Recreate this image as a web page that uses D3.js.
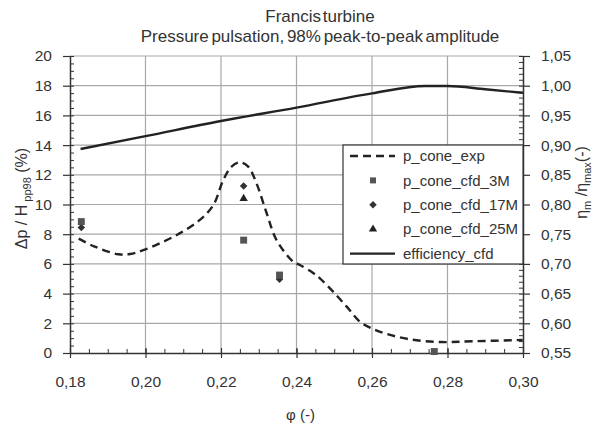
<!DOCTYPE html>
<html>
<head>
<meta charset="utf-8">
<script src="https://cdn.jsdelivr.net/npm/d3@7"></script>
<style>
  body { margin: 0; background: #fff; }
  text { font-family: "Liberation Sans", Arial, sans-serif; fill: #333; }
</style>
</head>
<body>
<div id="chart-area"></div>
<script>
// Data
const expPhi = [0.1823, 0.1862, 0.1928, 0.1959, 0.2000, 0.2083, 0.2144, 0.2180, 0.2206, 0.2228, 0.2250, 0.2272, 0.2294, 0.2321, 0.2347, 0.2391, 0.2409, 0.2445, 0.2462, 0.2497, 0.2533, 0.2568, 0.2599, 0.2639, 0.2701, 0.2780, 0.2868, 0.2999];
const expVal = [7.70, 7.20, 6.65, 6.67, 6.98, 7.95, 8.96, 9.97, 11.65, 12.55, 12.84, 12.55, 11.43, 9.41, 7.61, 6.15, 5.93, 5.37, 5.03, 4.13, 3.12, 2.11, 1.66, 1.28, 0.92, 0.74, 0.79, 0.88];

const cfd3MPhi = [0.183, 0.226, 0.2355, 0.2765];
const cfd3MVal = [8.85, 7.60, 5.25, 0.10];
const cfd17MPhi = [0.183, 0.226, 0.2355];
const cfd17MVal = [8.45, 11.25, 4.96];
const cfd25MPhi = [0.226];
const cfd25MVal = [10.40];

const effPhi = [0.1828, 0.20, 0.22, 0.24, 0.26, 0.274, 0.28, 0.29, 0.30];
const effVal = [0.8934, 0.915, 0.9406, 0.963, 0.987, 0.9995, 0.9995, 0.994, 0.988];

const xTicks = [0.18, 0.20, 0.22, 0.24, 0.26, 0.28, 0.30];
const yTicks = [0, 2, 4, 6, 8, 10, 12, 14, 16, 18, 20];
const y2Ticks = [0.55, 0.60, 0.65, 0.70, 0.75, 0.80, 0.85, 0.90, 0.95, 1.00, 1.05];

const legendNames = ["p_cone_exp", "p_cone_cfd_3M", "p_cone_cfd_17M", "p_cone_cfd_25M", "efficiency_cfd"];

const margin = { top: 56, right: 77, bottom: 77, left: 70 };
const width = 600 - margin.left - margin.right;
const height = 430 - margin.top - margin.bottom;

const root = d3.select("#chart-area").append("svg")
  .attr("width", 600)
  .attr("height", 430);

const svg = root.append("g")
  .attr("transform", `translate(${margin.left},${margin.top})`);

// Scales
const x = d3.scaleLinear().domain([0.18, 0.30]).range([0, width]);
const y = d3.scaleLinear().domain([0, 20]).range([height, 0]);
const y2 = d3.scaleLinear().domain([0.55, 1.05]).range([height, 0]);

const comma = d => d.toFixed(2).replace(".", ",");

// Grid
svg.append("g").selectAll("line")
  .data(yTicks.slice(1))
  .enter().append("line")
  .attr("x1", 0).attr("x2", width)
  .attr("y1", d => y(d)).attr("y2", d => y(d))
  .attr("stroke", "#a8a8a8").attr("stroke-width", 1.2);

svg.append("g").selectAll("line")
  .data(xTicks.slice(1, -1))
  .enter().append("line")
  .attr("y1", 0).attr("y2", height)
  .attr("x1", d => x(d)).attr("x2", d => x(d))
  .attr("stroke", "#a8a8a8").attr("stroke-width", 1.2);

// Axes
const axisColor = "#333";
function styleAxis(g) {
  g.select(".domain").attr("stroke", axisColor).attr("stroke-width", 1.5);
  g.selectAll(".tick line").attr("stroke", axisColor).attr("stroke-width", 1.2);
  g.selectAll("text").attr("fill", "#333").style("font-size", "15.5px")
    .style("font-family", "'Liberation Sans', Arial, sans-serif");
}

// minor ticks first (inward)
svg.append("g")
  .attr("transform", `translate(0,${height})`)
  .call(d3.axisTop(x).ticks(24).tickSize(4).tickFormat("").tickSizeOuter(0))
  .call(g => g.select(".domain").remove())
  .call(g => g.selectAll("line").attr("stroke", axisColor));
svg.append("g")
  .call(d3.axisRight(y).ticks(40).tickSize(4).tickFormat("").tickSizeOuter(0))
  .call(g => g.select(".domain").remove())
  .call(g => g.selectAll("line").attr("stroke", axisColor));
svg.append("g")
  .attr("transform", `translate(${width},0)`)
  .call(d3.axisLeft(y2).ticks(50).tickSize(4).tickFormat("").tickSizeOuter(0))
  .call(g => g.select(".domain").remove())
  .call(g => g.selectAll("line").attr("stroke", axisColor));

const xAxisG = svg.append("g")
  .attr("transform", `translate(0,${height})`)
  .call(d3.axisBottom(x).tickValues(xTicks).tickFormat(comma).tickSize(5).tickSizeOuter(0).tickPadding(18))
  .call(styleAxis);
xAxisG.selectAll(".tick line").attr("y1", -5);

const yAxisG = svg.append("g")
  .call(d3.axisLeft(y).tickValues(yTicks).tickSize(7).tickSizeOuter(0).tickPadding(11))
  .call(styleAxis);

const y2AxisG = svg.append("g")
  .attr("transform", `translate(${width},0)`)
  .call(d3.axisRight(y2).tickValues(y2Ticks).tickFormat(comma).tickSize(7).tickSizeOuter(0).tickPadding(11))
  .call(styleAxis);

// Axis titles
svg.append("text")
  .attr("x", width / 2 + 4)
  .attr("y", height + 67)
  .attr("text-anchor", "middle")
  .style("font-size", "15px")
  .text("φ (-)");

const yTitle = svg.append("text")
  .attr("transform", `translate(-43,${height / 2 - 6}) rotate(-90)`)
  .attr("text-anchor", "middle")
  .style("font-size", "16px");
yTitle.append("tspan").text("Δp / H");
yTitle.append("tspan").attr("dy", 4).style("font-size", "11px").text(" pp98");
yTitle.append("tspan").attr("dy", -4).text(" (%)");

const y2Title = svg.append("text")
  .attr("transform", `translate(${width + 64},${height / 2 - 22}) rotate(-90)`)
  .attr("text-anchor", "middle")
  .style("font-size", "16px");
y2Title.append("tspan").text("η");
y2Title.append("tspan").attr("dy", 4).style("font-size", "11px").text("m");
y2Title.append("tspan").attr("dy", -4).text(" /η");
y2Title.append("tspan").attr("dy", 4).style("font-size", "11px").text("max");
y2Title.append("tspan").attr("dy", -4).text("(-)");

// Title
root.append("text")
  .attr("x", 320).attr("y", 22)
  .attr("text-anchor", "middle")
  .style("font-size", "17px")
  .style("word-spacing", "-3px")
  .text("Francis turbine");
root.append("text")
  .attr("x", 320).attr("y", 42)
  .attr("text-anchor", "middle")
  .style("font-size", "17px")
  .style("word-spacing", "-2px")
  .text("Pressure pulsation, 98% peak-to-peak amplitude");

// Lines
const expLine = d3.line()
  .x((d, i) => x(expPhi[i]))
  .y(d => y(d))
  .curve(d3.curveCatmullRom);

svg.append("path")
  .datum(expVal)
  .attr("fill", "none")
  .attr("stroke", "#222")
  .attr("stroke-width", 2.4)
  .attr("stroke-dasharray", "8,5")
  .attr("d", expLine);

const effLine = d3.line()
  .x((d, i) => x(effPhi[i]))
  .y(d => y2(d))
  .curve(d3.curveMonotoneX);

svg.append("path")
  .datum(effVal)
  .attr("fill", "none")
  .attr("stroke", "#222")
  .attr("stroke-width", 2.4)
  .attr("d", effLine);

// Markers
const square = d3.symbol().type(d3.symbolSquare).size(48);
const diamond = d3.symbol().type(d3.symbolSquare).size(28);
const triangle = d3.symbol().type(d3.symbolTriangle).size(30);

svg.selectAll(".m17")
  .data(cfd17MVal)
  .enter().append("path")
  .attr("class", "m17")
  .attr("d", diamond)
  .attr("fill", "#333")
  .attr("transform", (d, i) => `translate(${x(cfd17MPhi[i])},${y(d)}) rotate(45)`);

svg.selectAll(".m25")
  .data(cfd25MVal)
  .enter().append("path")
  .attr("class", "m25")
  .attr("d", triangle)
  .attr("fill", "#222")
  .attr("transform", (d, i) => `translate(${x(cfd25MPhi[i])},${y(d)})`);

svg.selectAll(".m3")
  .data(cfd3MVal)
  .enter().append("path")
  .attr("class", "m3")
  .attr("d", square)
  .attr("fill", "#555")
  .attr("transform", (d, i) => `translate(${x(cfd3MPhi[i])},${y(d)})`);

// Legend
const legend = svg.append("g")
  .attr("transform", `translate(${273},${89})`);

legend.append("rect")
  .attr("width", 180).attr("height", 119)
  .attr("fill", "#fff")
  .attr("stroke", "#333").attr("stroke-width", 1.2);

const rows = legend.selectAll(".row")
  .data(legendNames)
  .enter().append("g")
  .attr("class", "row")
  .attr("transform", (d, i) => `translate(0,${11 + i * 24.4})`);

rows.append("text")
  .attr("x", 60)
  .attr("dy", "0.35em")
  .style("font-size", "15px")
  .attr("fill", "#444")
  .text(d => d);

rows.filter((d, i) => i === 0).append("line")
  .attr("x1", 7).attr("x2", 52)
  .attr("stroke", "#222").attr("stroke-width", 2.4)
  .attr("stroke-dasharray", "8,5");
rows.filter((d, i) => i === 4).append("line")
  .attr("x1", 7).attr("x2", 52)
  .attr("stroke", "#222").attr("stroke-width", 2.4);
rows.filter((d, i) => i === 1).append("path")
  .attr("d", d3.symbol().type(d3.symbolSquare).size(36)).attr("fill", "#555").attr("transform", "translate(30,0)");
rows.filter((d, i) => i === 2).append("path")
  .attr("d", diamond).attr("fill", "#333").attr("transform", "translate(30,0) rotate(45)");
rows.filter((d, i) => i === 3).append("path")
  .attr("d", triangle).attr("fill", "#222").attr("transform", "translate(30,0)");
</script>
</body>
</html>
